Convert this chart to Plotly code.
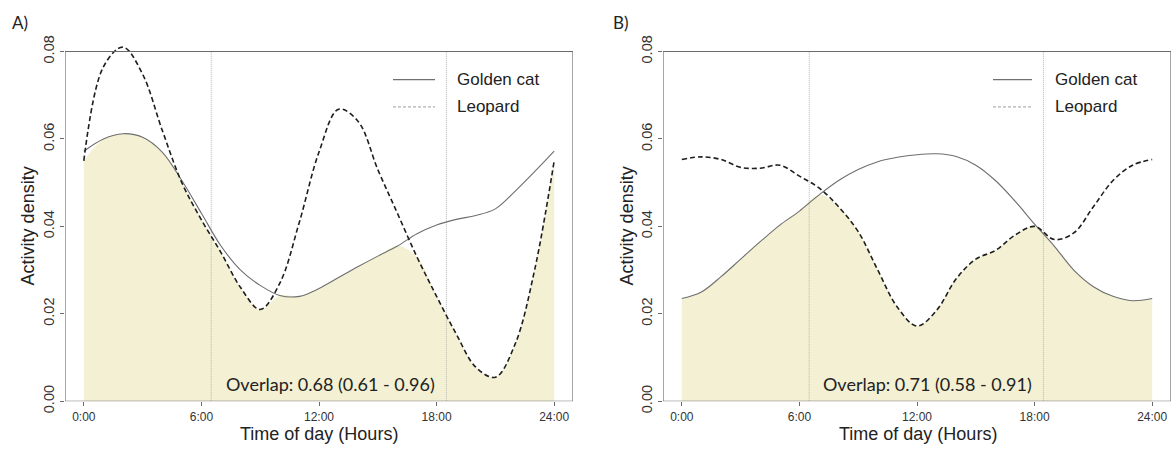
import plotly.graph_objects as go

# Hourly activity densities (kernel density curves) for each species
hours = list(range(25))

golden_cat_a = [0.0572, 0.0600, 0.0612, 0.0604, 0.0570, 0.0505, 0.0430, 0.0355, 0.0300,
                0.0265, 0.0242, 0.0240, 0.0258, 0.0283, 0.0308, 0.0332, 0.0355, 0.0383,
                0.0403, 0.0416, 0.0425, 0.0440, 0.0480, 0.0525, 0.0572]
leopard_a = [0.0550, 0.0765, 0.0810, 0.0748, 0.0620, 0.0500, 0.0415, 0.0340, 0.0260,
             0.0210, 0.0270, 0.0410, 0.0570, 0.0668, 0.0640, 0.0530, 0.0430, 0.0330,
             0.0240, 0.0154, 0.0078, 0.0055, 0.0130, 0.0300, 0.0550]

golden_cat_b = [0.0235, 0.0250, 0.0285, 0.0325, 0.0365, 0.0403, 0.0435, 0.0472, 0.0505,
                0.0530, 0.0548, 0.0558, 0.0564, 0.0566, 0.0560, 0.0540, 0.0505, 0.0458,
                0.0405, 0.0355, 0.0300, 0.0262, 0.0240, 0.0230, 0.0235]
leopard_b = [0.0553, 0.0559, 0.0553, 0.0535, 0.0533, 0.0540, 0.0515, 0.0488, 0.0445,
             0.0388, 0.0300, 0.0215, 0.0172, 0.0208, 0.0280, 0.0325, 0.0345, 0.0380,
             0.0400, 0.0370, 0.0385, 0.0445, 0.0505, 0.0540, 0.0553]

# Sunrise / sunset reference lines (hours)
sun_a = [6.5, 18.5]
sun_b = [6.5, 18.45]

overlap_labels = ["Overlap: 0.68 (0.61 - 0.96)", "Overlap: 0.71 (0.58 - 0.91)"]
panel_labels = ["A)", "B)"]
x_tickvals = [0, 6, 12, 18, 24]
x_ticktext = ["0:00", "6:00", "12:00", "18:00", "24:00"]
y_tickvals = [0.00, 0.02, 0.04, 0.06, 0.08]
y_ticktext = ["0.00", "0.02", "0.04", "0.06", "0.08"]

X_RANGE = [-0.96, 24.96]
Y_BOX = [0, 0.08]          # framed region
Y_RANGE = [0, 0.0835]      # a little headroom so peaks can rise above the frame

FILL = "#F3F0D3"
CAT_COLOR = "#6e6e6e"
LEO_COLOR = "#1e1e1e"
AXIS_COLOR = "#6a6a6a"
W, H = 1174, 456

fig = go.Figure()

panels = [
    dict(gc=golden_cat_a, lp=leopard_a, sun=sun_a, xa="x", ya="y"),
    dict(gc=golden_cat_b, lp=leopard_b, sun=sun_b, xa="x2", ya="y2"),
]

for p in panels:
    overlap = [min(a, b) for a, b in zip(p["gc"], p["lp"])]
    fig.add_trace(go.Scatter(x=hours, y=overlap, mode="lines", fill="tozeroy",
                             fillcolor=FILL, line=dict(width=0, shape="spline"),
                             xaxis=p["xa"], yaxis=p["ya"], hoverinfo="skip",
                             showlegend=False))
    for s in p["sun"]:
        fig.add_trace(go.Scatter(x=[s, s], y=Y_BOX, mode="lines",
                                 line=dict(color="#b4b4b4", width=1, dash="1px,1px"),
                                 xaxis=p["xa"], yaxis=p["ya"], hoverinfo="skip",
                                 showlegend=False))
    fig.add_trace(go.Scatter(x=hours, y=p["gc"], mode="lines", name="Golden cat",
                             line=dict(color=CAT_COLOR, width=1.1, shape="spline"),
                             xaxis=p["xa"], yaxis=p["ya"], showlegend=False))
    fig.add_trace(go.Scatter(x=hours, y=p["lp"], mode="lines", name="Leopard",
                             line=dict(color=LEO_COLOR, width=1.6, shape="spline",
                                       dash="5px,3px"),
                             xaxis=p["xa"], yaxis=p["ya"], showlegend=False))

# pixel layout: frame bottom (y=0) at 412 px, frame top (y=0.08) at 52 px
px_per_unit = (412 - 52) / (Y_BOX[1] - Y_BOX[0])
top_px = 52 - (Y_RANGE[1] - Y_BOX[1]) * px_per_unit
xdoms = [[65 / W, 573 / W], [663 / W, 1171 / W]]
ydom = [1 - 412 / H, 1 - top_px / H]

axis_common = dict(showline=False, showgrid=False, zeroline=False, ticks="outside",
                   ticklen=4, tickcolor=AXIS_COLOR, tickwidth=1)

shapes = []
for i, suffix in enumerate(["", "2"]):
    fig.layout["xaxis" + suffix] = dict(
        axis_common, domain=xdoms[i], range=X_RANGE,
        tickvals=x_tickvals, ticktext=x_ticktext, anchor="y" + suffix,
        tickfont=dict(family="Liberation Sans", size=12, color="#333"))
    fig.layout["yaxis" + suffix] = dict(
        axis_common, domain=ydom, range=Y_RANGE,
        tickvals=y_tickvals, ticktext=y_ticktext, anchor="x" + suffix,
        tickangle=-90, tickfont=dict(family="Liberation Sans", size=14.5, color="#333"))
    # plot frame
    shapes.append(dict(type="rect", xref="x" + suffix, yref="y" + suffix,
                       x0=X_RANGE[0], x1=X_RANGE[1], y0=Y_BOX[0], y1=Y_BOX[1],
                       line=dict(color=AXIS_COLOR, width=1.2), layer="above"))

annotations = []
# text placement in pixels
geo = [
    dict(letter=(10, 22), ylab=(28, 232), xlab=(319, 446), ov=(330, 394),
         leg_x=(393, 435), leg_txt=455, leg_y=(81, 109)),
    dict(letter=(611, 22), ylab=(627, 232), xlab=(918, 446), ov=(927, 394),
         leg_x=(993, 1032), leg_txt=1053, leg_y=(81, 109)),
]
for i, g in enumerate(geo):
    annotations.append(dict(text=panel_labels[i], x=g["letter"][0] / W, y=1 - g["letter"][1] / H,
                            xref="paper", yref="paper", xanchor="left", yanchor="middle",
                            showarrow=False, font=dict(family="Lato", size=17, color="#222")))
    annotations.append(dict(text="Activity density", x=g["ylab"][0] / W, y=1 - g["ylab"][1] / H,
                            xref="paper", yref="paper", xanchor="center", yanchor="middle",
                            textangle=-90, showarrow=False,
                            font=dict(family="Liberation Sans", size=18, color="#222")))
    annotations.append(dict(text="Time of day (Hours)", x=g["xlab"][0] / W, y=1 - g["xlab"][1] / H,
                            xref="paper", yref="paper", xanchor="center", yanchor="middle",
                            showarrow=False,
                            font=dict(family="Liberation Sans", size=18, color="#222")))
    annotations.append(dict(text=overlap_labels[i], x=g["ov"][0] / W, y=1 - g["ov"][1] / H,
                            xref="paper", yref="paper", xanchor="center", yanchor="middle",
                            showarrow=False, font=dict(family="Lato", size=18, color="#222")))
    for j, (name, style) in enumerate([("Golden cat", dict(color="#707070", width=1.2)),
                                        ("Leopard", dict(color="#b0b0b0", width=1.2, dash="3px,2px"))]):
        yy = 1 - g["leg_y"][j] / H
        shapes.append(dict(type="line", xref="paper", yref="paper",
                           x0=g["leg_x"][0] / W, x1=g["leg_x"][1] / W, y0=yy, y1=yy,
                           line=style))
        annotations.append(dict(text=name, x=g["leg_txt"] / W, y=yy, xref="paper", yref="paper",
                                xanchor="left", yanchor="middle", showarrow=False,
                                font=dict(family="Liberation Sans", size=17, color="#222")))

fig.update_layout(width=W, height=H, margin=dict(l=0, r=0, t=0, b=0),
                  paper_bgcolor="white", plot_bgcolor="white",
                  annotations=annotations, shapes=shapes, showlegend=False)

fig.write_html("out.html", config={"displayModeBar": False})
